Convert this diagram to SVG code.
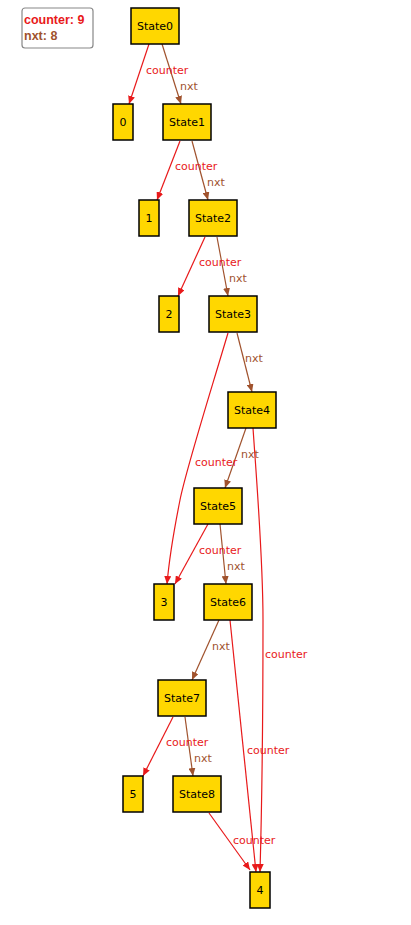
<svg xmlns="http://www.w3.org/2000/svg" width="411" height="925" viewBox="0 0 411 925">
<style>
.n rect{fill:#FFD700;stroke:#000;stroke-width:1.5}
.n text{font-family:"DejaVu Sans",sans-serif;font-size:11px;fill:#000;text-anchor:middle}
.e path{fill:none;stroke-width:1.2}
.c{stroke:#e8191a}
.x{stroke:#a0522d}
.lc{font-family:"DejaVu Sans",sans-serif;font-size:11px;fill:#e8191a}
.lx{font-family:"DejaVu Sans",sans-serif;font-size:11px;fill:#a0522d}
</style>
<defs>
<marker id="ac" markerUnits="userSpaceOnUse" markerWidth="9" markerHeight="7" refX="8" refY="3.5" orient="auto"><path d="M0,0 L8,3.5 L0,7 z" fill="#e8191a"/></marker>
<marker id="ax" markerUnits="userSpaceOnUse" markerWidth="9" markerHeight="7" refX="8" refY="3.5" orient="auto"><path d="M0,0 L8,3.5 L0,7 z" fill="#a0522d"/></marker>
</defs>
<rect x="22" y="8" width="71" height="40" rx="3" fill="#fff" stroke="#888" stroke-width="1.2"/>
<text x="24" y="24" font-family="Liberation Sans,sans-serif" font-weight="bold" font-size="12.5" fill="#e8191a">counter: 9</text>
<text x="24" y="40" font-family="Liberation Sans,sans-serif" font-weight="bold" font-size="12.5" fill="#a0522d">nxt: 8</text>
<g id="edges" class="e">
<path class="c" d="M149,44 L129,104" marker-end="url(#ac)"/>
<path class="x" d="M162,44 L181,104" marker-end="url(#ax)"/>
<path class="c" d="M180,141 L157,200" marker-end="url(#ac)"/>
<path class="x" d="M192,141 L208,200" marker-end="url(#ax)"/>
<path class="c" d="M205,237 L178,296" marker-end="url(#ac)"/>
<path class="x" d="M217,237 L228,296" marker-end="url(#ax)"/>
<path class="c" d="M228,333 C205,410 186,470 180,500 C176,520 170,550 167,584" marker-end="url(#ac)"/>
<path class="x" d="M237,333 L252,392" marker-end="url(#ax)"/>
<path class="x" d="M246,428 L225,488" marker-end="url(#ax)"/>
<path class="c" d="M253,428 C258,500 263,560 263,620 C263,700 262,800 260,872" marker-end="url(#ac)"/>
<path class="c" d="M208,524 L175,584" marker-end="url(#ac)"/>
<path class="x" d="M220,524 L226,584" marker-end="url(#ax)"/>
<path class="x" d="M219,620 L192,680" marker-end="url(#ax)"/>
<path class="c" d="M230,620 L256,872" marker-end="url(#ac)"/>
<path class="c" d="M173,717 L143,776" marker-end="url(#ac)"/>
<path class="x" d="M185,717 L193,776" marker-end="url(#ax)"/>
<path class="c" d="M209,813 L250,870" marker-end="url(#ac)"/>
<text class="lc" x="146" y="74">counter</text>
<text class="lx" x="180" y="90">nxt</text>
<text class="lc" x="175" y="170">counter</text>
<text class="lx" x="207" y="186">nxt</text>
<text class="lc" x="199" y="266">counter</text>
<text class="lx" x="229" y="282">nxt</text>
<text class="lx" x="245" y="362">nxt</text>
<text class="lc" x="195" y="466">counter</text>
<text class="lx" x="241" y="458">nxt</text>
<text class="lc" x="199" y="554">counter</text>
<text class="lx" x="227" y="570">nxt</text>
<text class="lx" x="212" y="650">nxt</text>
<text class="lc" x="265" y="658">counter</text>
<text class="lc" x="166" y="746">counter</text>
<text class="lx" x="194" y="762">nxt</text>
<text class="lc" x="247" y="754">counter</text>
<text class="lc" x="233" y="844">counter</text>
</g>
<g id="State0" class="n"><rect x="131" y="8" width="48" height="36"/><text x="155" y="30">State0</text></g>
<g id="N0" class="n"><rect x="113" y="104" width="20" height="36"/><text x="123" y="126">0</text></g>
<g id="State1" class="n"><rect x="163" y="104" width="48" height="36"/><text x="187" y="126">State1</text></g>
<g id="N1" class="n"><rect x="139" y="200" width="20" height="36"/><text x="149" y="222">1</text></g>
<g id="State2" class="n"><rect x="189" y="200" width="48" height="36"/><text x="213" y="222">State2</text></g>
<g id="N2" class="n"><rect x="159" y="296" width="20" height="36"/><text x="169" y="318">2</text></g>
<g id="State3" class="n"><rect x="209" y="296" width="48" height="36"/><text x="233" y="318">State3</text></g>
<g id="State4" class="n"><rect x="228" y="392" width="48" height="36"/><text x="252" y="414">State4</text></g>
<g id="State5" class="n"><rect x="194" y="488" width="48" height="36"/><text x="218" y="510">State5</text></g>
<g id="N3" class="n"><rect x="154" y="584" width="20" height="36"/><text x="164" y="606">3</text></g>
<g id="State6" class="n"><rect x="204" y="584" width="48" height="36"/><text x="228" y="606">State6</text></g>
<g id="State7" class="n"><rect x="158" y="680" width="48" height="36"/><text x="182" y="702">State7</text></g>
<g id="N5" class="n"><rect x="123" y="776" width="20" height="36"/><text x="133" y="798">5</text></g>
<g id="State8" class="n"><rect x="173" y="776" width="48" height="36"/><text x="197" y="798">State8</text></g>
<g id="N4" class="n"><rect x="250" y="872" width="20" height="36"/><text x="260" y="894">4</text></g>
</svg>
